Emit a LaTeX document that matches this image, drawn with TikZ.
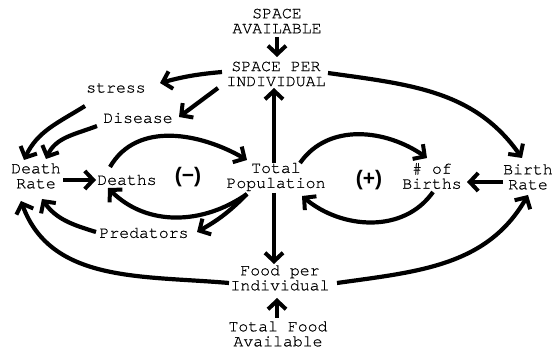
\documentclass[tikz,border=0pt]{standalone}
\usepackage{fontspec}
\setmainfont{TeX Gyre Cursor}[FakeBold=0.6]
\newfontfamily\signfont{Liberation Sans}
\usetikzlibrary{arrows.meta}
\begin{document}
\begin{tikzpicture}[x=1pt,y=1pt,
  lbl/.style={font=\fontsize{16.5}{15}\selectfont, align=center, inner sep=1pt},
  sign/.style={font=\signfont\bfseries\fontsize{21}{21}\selectfont, inner sep=0pt},
  arr/.style={line width=4.2pt, -{Straight Barb[length=8.5pt,width=18pt,line width=4pt]}}]
\fill[white] (0,0) rectangle (552,351);
\useasboundingbox (0,0) rectangle (552,351);
% nodes
\node[lbl] (sa) at (277,330) {SPACE\\AVAILABLE};
\node[lbl] (spi) at (276,277) {SPACE PER\\INDIVIDUAL};
\node[lbl] (stress) at (116,263) {stress};
\node[lbl] (dis) at (138,233) {Disease};
\node[lbl] (dr) at (36,175) {Death\\Rate};
\node[lbl] (deaths) at (127,171) {Deaths};
\node[sign] (minus) at (188,174) {(−)};
\node[lbl] (tp) at (276,174) {Total\\Population};
\node[sign] (plus) at (369,171) {(+)};
\node[lbl] (nb) at (432,175) {\# of\\Births};
\node[lbl] (br) at (528,174) {Birth\\Rate};
\node[lbl] (pred) at (144,118) {Predators};
\node[lbl] (fpi) at (280,73) {Food per\\Individual};
\node[lbl] (tfa) at (278,17) {Total Food\\Available};
% connectors
\draw[arr] ([shift={(0,-16)}]sa.center) -- ([shift={(1,17)}]spi.center);
\draw[arr] ([shift={(-2,14)}]tp.center) -- ([shift={(-2,-14)}]spi.center);
\draw[arr] ([shift={(-2,-16)}]tp.center) -- ([shift={(-6,14)}]fpi.center);
\draw[arr] ([shift={(-1,16)}]tfa.center) -- ([shift={(-3,-20)}]fpi.center);
\draw[arr] ([shift={(-54,2)}]spi.center) to[bend right=5] ([shift={(44,5)}]stress.center);
\draw[arr] ([shift={(-58,-14)}]spi.center) -- ([shift={(41,1)}]dis.center);
\draw[arr] ([shift={(-31,-18)}]stress.center) to[out=212,in=65] ([shift={(-12,16)}]dr.center);
\draw[arr] ([shift={(-41,-8)}]dis.center) to[out=201,in=66] ([shift={(10,17)}]dr.center);
\draw[arr] ([shift={(27,-4)}]dr.center) -- ([shift={(-31,0)}]deaths.center);
\draw[arr] ([shift={(-17,13)}]deaths.center) to[out=60,in=150] ([shift={(-29,17)}]tp.center);
\draw[arr] ([shift={(-29,-17)}]tp.center) to[out=215,in=-45] ([shift={(-19,-8)}]deaths.center);
\draw[arr] ([shift={(-29,-17)}]tp.center) to[bend left=8] ([shift={(53,1)}]pred.center);
\draw[arr] ([shift={(-48,1)}]pred.center) to[out=163,in=-55] ([shift={(6,-23)}]dr.center);
\draw[arr] ([shift={(-51,-5)}]fpi.center) to[out=175,in=-70] ([shift={(-15,-25)}]dr.center);
\draw[arr] ([shift={(24,14)}]tp.center) to[out=55,in=145] ([shift={(-5,18)}]nb.center);
\draw[arr] ([shift={(1,-16)}]nb.center) to[out=235,in=-40] ([shift={(26,-19)}]tp.center);
\draw[arr] ([shift={(-25,-5)}]br.center) -- ([shift={(35,-6)}]nb.center);
\draw[arr] ([shift={(52,1)}]spi.center) to[out=-8,in=125] ([shift={(-6,19)}]br.center);
\draw[arr] ([shift={(57,-5)}]fpi.center) to[out=8,in=240] ([shift={(0,-18)}]br.center);
\end{tikzpicture}
\end{document}
